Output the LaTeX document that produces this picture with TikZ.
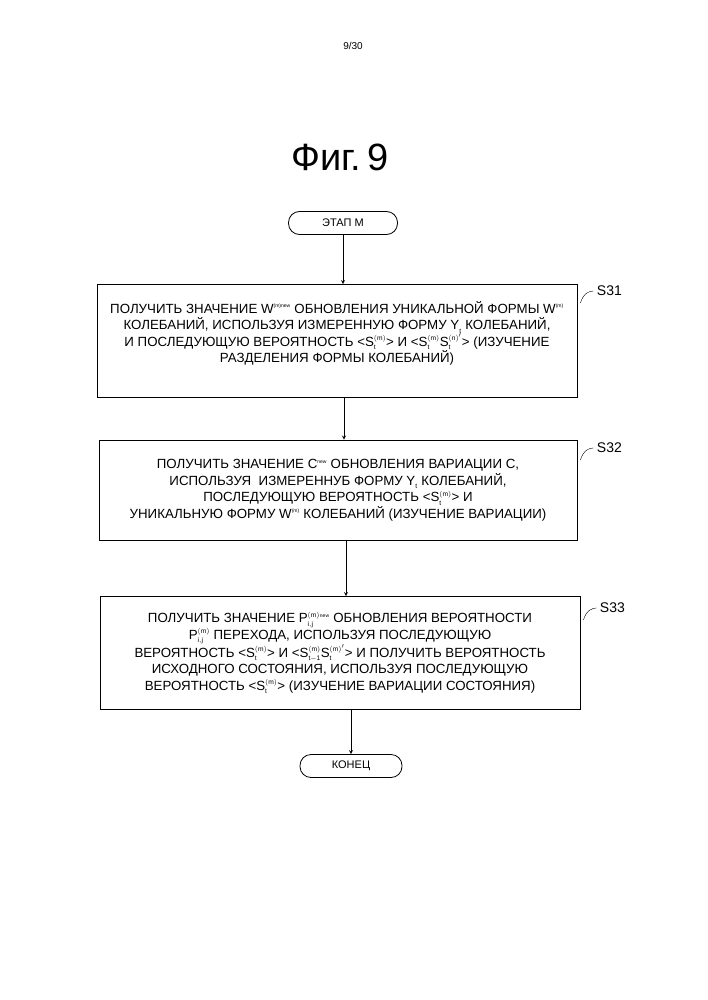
\documentclass[tikz,border=0pt]{standalone}
\usepackage{fontspec}
\setmainfont{Liberation Sans}
\newcommand\ssp[1]{\textsuperscript{\tiny #1}}
\newcommand\ssb[2]{$^{\scriptscriptstyle\mathrm{#1}}_{\scriptscriptstyle\mathrm{#2}}$}
\begin{document}
\begin{tikzpicture}[x=1pt,y=-1pt,
  box/.style={draw,thick,align=center,font=\fontsize{13.3}{16.5}\selectfont,inner sep=0pt},
  term/.style={draw,thick,rounded corners=11pt,minimum height=23pt,font=\fontsize{11}{13}\selectfont,inner sep=0pt},
  arr/.style={->,thick,>=stealth},
  lab/.style={font=\fontsize{14}{16}\selectfont,anchor=west}]
\useasboundingbox (0,0) rectangle (707,1000);
\node at (353,46) {\fontsize{10}{12}\selectfont 9/30};
\node at (340,157) {\fontsize{38}{44}\selectfont Фиг.\,9};
\node[term,minimum width=109pt] (st) at (343,223) {ЭТАП М};
\node[box,minimum width=480pt,minimum height=113pt] (b1) at (337,341) {ПОЛУЧИТЬ ЗНАЧЕНИЕ W\ssp{(m)new} ОБНОВЛЕНИЯ УНИКАЛЬНОЙ ФОРМЫ W\ssp{(m)}\\КОЛЕБАНИЙ, ИСПОЛЬЗУЯ ИЗМЕРЕННУЮ ФОРМУ Y\ssb{}{t} КОЛЕБАНИЙ,\\И ПОСЛЕДУЮЩУЮ ВЕРОЯТНОСТЬ <S\ssb{(m)}{t}> И <S\ssb{(m)}{t}S\ssb{(n)'}{t}> (ИЗУЧЕНИЕ\\РАЗДЕЛЕНИЯ ФОРМЫ КОЛЕБАНИЙ)\\[2pt]};
\node[box,minimum width=478pt,minimum height=100pt] (b2) at (338,490) {ПОЛУЧИТЬ ЗНАЧЕНИЕ C\ssp{new} ОБНОВЛЕНИЯ ВАРИАЦИИ C,\\ИСПОЛЬЗУЯ \ ИЗМЕРЕННУБ ФОРМУ Y\ssb{}{t} КОЛЕБАНИЙ,\\ПОСЛЕДУЮЩУЮ ВЕРОЯТНОСТЬ <S\ssb{(m)}{t}> И\\УНИКАЛЬНУЮ ФОРМУ W\ssp{(m)} КОЛЕБАНИЙ (ИЗУЧЕНИЕ ВАРИАЦИИ)};
\node[box,minimum width=480pt,minimum height=113pt] (b3) at (340,653) {ПОЛУЧИТЬ ЗНАЧЕНИЕ P\ssb{(m)}{i,j}\ssp{new} ОБНОВЛЕНИЯ ВЕРОЯТНОСТИ\\P\ssb{(m)}{i,j} ПЕРЕХОДА, ИСПОЛЬЗУЯ ПОСЛЕДУЮЩУЮ\\ВЕРОЯТНОСТЬ <S\ssb{(m)}{t}> И <S\ssb{(m)}{t-1}S\ssb{(m)'}{t}> И ПОЛУЧИТЬ ВЕРОЯТНОСТЬ\\ИСХОДНОГО СОСТОЯНИЯ, ИСПОЛЬЗУЯ ПОСЛЕДУЮЩУЮ\\ВЕРОЯТНОСТЬ <S\ssb{(m)}{t}> (ИЗУЧЕНИЕ ВАРИАЦИИ СОСТОЯНИЯ)};
\node[term,minimum width=102pt] (en) at (351,766) {КОНЕЦ};
\draw[arr] (st) -- (st|-b1.north);
\draw[arr] (b1.south-|344,0) -- (344,0|-b2.north);
\draw[arr] (b2.south-|346,0) -- (346,0|-b3.north);
\draw[arr] (b3.south-|351,0) -- (en);
\foreach \b/\t/\y in {b1/S31/295, b2/S32/452, b3/S33/612}{
  \coordinate (c\t) at (\b.east|-0,\y);
  \draw (c\t) ++(3,8) .. controls +(3,-10) and +(-4,0) .. ++(13,-12) node[lab] (l\t) {\t};
}
\end{tikzpicture}
\end{document}
